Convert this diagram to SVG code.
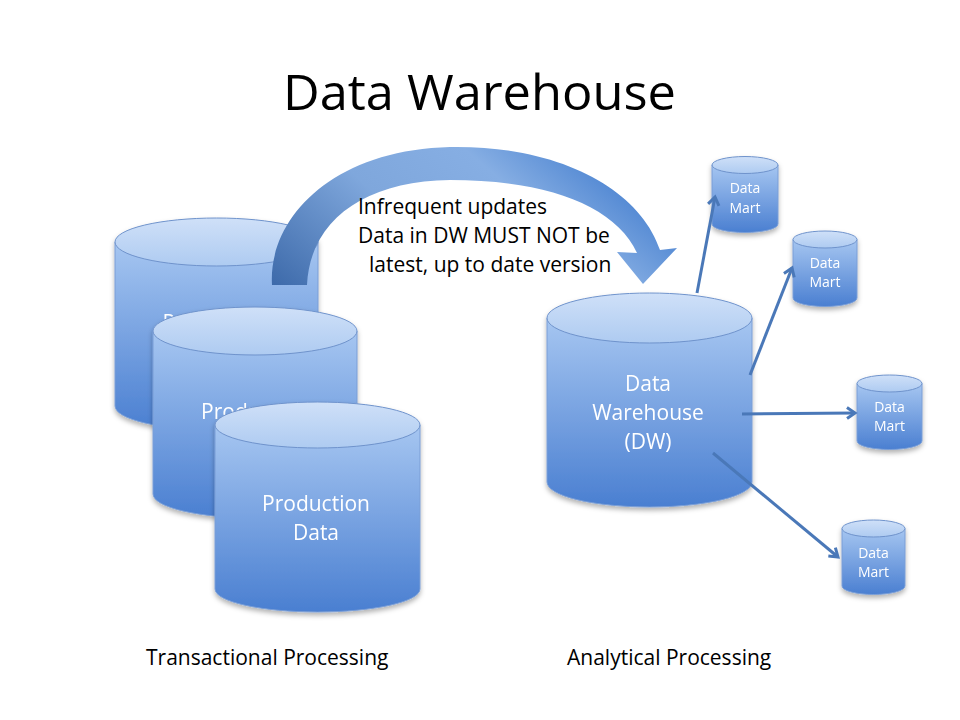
<svg xmlns="http://www.w3.org/2000/svg" width="960" height="720" viewBox="0 0 960 720">
<defs>
<linearGradient id="body" x1="0" y1="0" x2="0" y2="1">
<stop offset="0" stop-color="#a6c6f1"/>
<stop offset="1" stop-color="#4a7fd1"/>
</linearGradient>
<linearGradient id="top" x1="0" y1="0" x2="0" y2="1">
<stop offset="0" stop-color="#cfe0f8"/>
<stop offset="1" stop-color="#aecbf1"/>
</linearGradient>
<linearGradient id="arc" x1="0" y1="1" x2="1" y2="0.6">
<stop offset="0" stop-color="#3d6aaa"/>
<stop offset="0.45" stop-color="#7fa7dc"/>
<stop offset="0.75" stop-color="#86aee3"/>
<stop offset="1" stop-color="#4f86d2"/>
</linearGradient>
<filter id="sh" x="-10%" y="-10%" width="120%" height="125%">
<feDropShadow dx="0" dy="3" stdDeviation="2.5" flood-color="#000" flood-opacity="0.3"/>
</filter>
<marker id="ah" markerWidth="14" markerHeight="14" refX="11" refY="7" orient="auto" markerUnits="userSpaceOnUse">
<path d="M3,1.5 L11,7 L3,12.5" fill="none" stroke="#4a78b8" stroke-width="3"/>
</marker>
</defs>
<style>
.cb{fill:url(#body);stroke:#7a9ed6;stroke-width:1}
.ct{fill:url(#top);stroke:#6f93cc;stroke-width:1}
.lt{font-family:"Open Sans","Liberation Sans",sans-serif;fill:#ffffff;text-anchor:middle}
.big{font-size:21px}
.sm{font-size:14px}
.bk{font-family:"Open Sans","Liberation Sans",sans-serif;fill:#000000;font-size:21px}
.cn{fill:none;stroke:#4a78b8;stroke-width:3;marker-end:url(#ah)}
</style>
<rect width="960" height="720" fill="#ffffff"/>
<text class="bk" x="479.5" y="110" style="font-size:50px" text-anchor="middle" textLength="393" lengthAdjust="spacingAndGlyphs">Data Warehouse</text>

<g id="prod1" filter="url(#sh)">
<path class="cb" d="M115,242 L115,406 A101.5,24 0 0 0 318,406 L318,242 Z"/>
<ellipse class="ct" cx="216.5" cy="242" rx="101.5" ry="24"/>
<text class="lt big" x="216.5" y="330">Production</text>
<text class="lt big" x="216.5" y="359">Data</text>
</g>

<g id="big-arrow">
<path d="M272,285 C268,220 330,150 450,147 C560,145 640,190 660,250 L677,248 L643,284 L617,252 L637,253 C615,205 545,180 450,180 C365,181 310,220 307,285 Z" fill="url(#arc)"/>
</g>

<g id="prod2" filter="url(#sh)">
<path class="cb" d="M153,331 L153,494 A102,24 0 0 0 357,494 L357,331 Z"/>
<ellipse class="ct" cx="255" cy="331" rx="102" ry="24"/>
<text class="lt big" x="255" y="419">Production</text>
<text class="lt big" x="255" y="448">Data</text>
</g>

<g id="prod3" filter="url(#sh)">
<path class="cb" d="M215,425 L215,589 A102.5,23 0 0 0 420,589 L420,425 Z"/>
<ellipse class="ct" cx="317.5" cy="425" rx="102.5" ry="23"/>
<text class="lt big" x="316" y="511">Production</text>
<text class="lt big" x="316" y="540">Data</text>
</g>

<g id="dw" filter="url(#sh)">
<path class="cb" d="M547,318 L547,482 A102.5,25 0 0 0 752,482 L752,318 Z"/>
<ellipse class="ct" cx="649.5" cy="318" rx="102.5" ry="25"/>
<text class="lt big" x="648" y="391">Data</text>
<text class="lt big" x="648" y="420">Warehouse</text>
<text class="lt big" x="648" y="449">(DW)</text>
</g>

<g id="dm1" filter="url(#sh)">
<path class="cb" d="M712,165 L712,224 A33,8.5 0 0 0 778,224 L778,165 Z"/>
<ellipse class="ct" cx="745" cy="165" rx="33" ry="8.5"/>
<text class="lt sm" x="745" y="193">Data</text>
<text class="lt sm" x="745" y="213">Mart</text>
</g>

<g id="dm2" filter="url(#sh)">
<path class="cb" d="M793,239.5 L793,298 A32,8.5 0 0 0 857,298 L857,239.5 Z"/>
<ellipse class="ct" cx="825" cy="239.5" rx="32" ry="8.5"/>
<text class="lt sm" x="825" y="268">Data</text>
<text class="lt sm" x="825" y="287">Mart</text>
</g>

<g id="dm3" filter="url(#sh)">
<path class="cb" d="M857,383.5 L857,441 A32.5,8.5 0 0 0 922,441 L922,383.5 Z"/>
<ellipse class="ct" cx="889.5" cy="383.5" rx="32.5" ry="8.5"/>
<text class="lt sm" x="889.5" y="412">Data</text>
<text class="lt sm" x="889.5" y="431">Mart</text>
</g>

<g id="dm4" filter="url(#sh)">
<path class="cb" d="M842,528.5 L842,586 A31.5,8.5 0 0 0 905,586 L905,528.5 Z"/>
<ellipse class="ct" cx="873.5" cy="528.5" rx="31.5" ry="8.5"/>
<text class="lt sm" x="873.5" y="558">Data</text>
<text class="lt sm" x="873.5" y="577">Mart</text>
</g>

<g id="connectors">
<line class="cn" x1="697" y1="293" x2="715" y2="197"/>
<line class="cn" x1="750" y1="375" x2="792" y2="268"/>
<line class="cn" x1="742" y1="414" x2="855" y2="413"/>
<line class="cn" x1="713" y1="453" x2="838" y2="557"/>
</g>

<g id="labels">
<text class="bk" x="358" y="214">Infrequent updates</text>
<text class="bk" x="358" y="243">Data in DW MUST NOT be</text>
<text class="bk" x="369" y="272">latest, up to date version</text>
<text class="bk" x="146" y="665">Transactional Processing</text>
<text class="bk" x="567" y="665">Analytical Processing</text>
</g>
</svg>
